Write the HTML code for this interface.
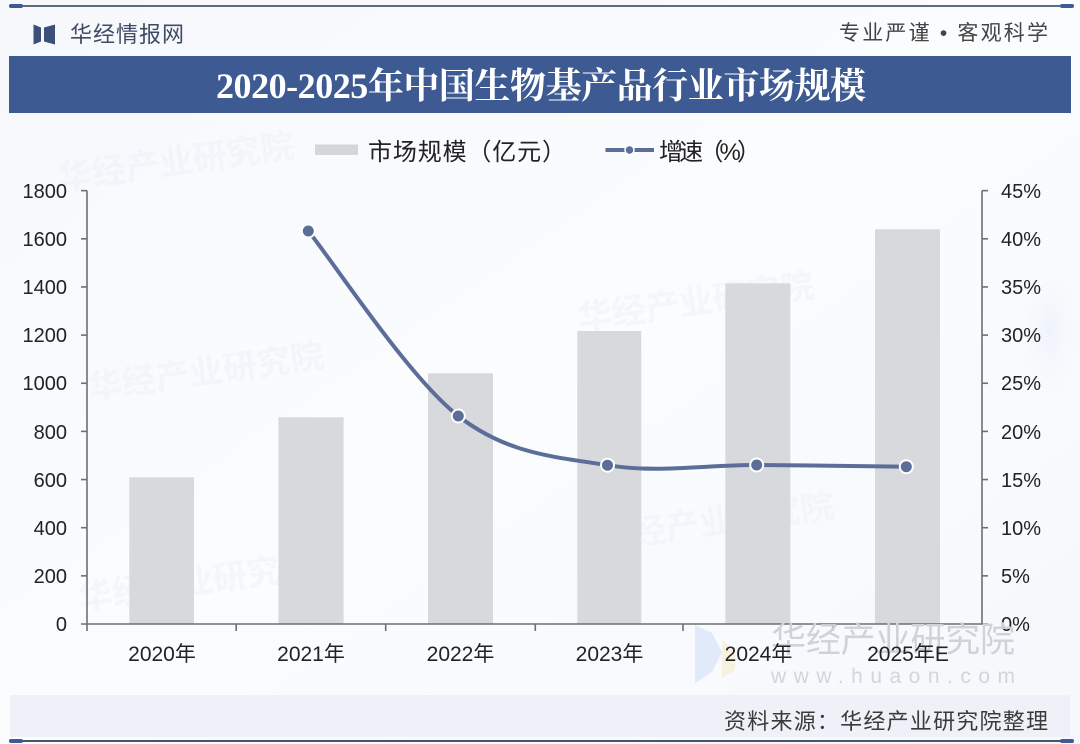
<!DOCTYPE html>
<html>
<head>
<meta charset="utf-8">
<style>
  html,body{margin:0;padding:0;background:#f8fafd;}
  svg{display:block;}
  .sans{font-family:"Liberation Sans","Noto Sans CJK SC",sans-serif;}
  .cjk{font-family:"Liberation Sans","Noto Sans CJK SC",sans-serif;}
  .serif{font-family:"Liberation Serif","Noto Serif CJK SC",serif;}
</style>
</head>
<body>
<svg width="1080" height="744" viewBox="0 0 1080 744" xmlns="http://www.w3.org/2000/svg">
  <defs>
    <linearGradient id="bg" x1="0" y1="0" x2="1" y2="1">
      <stop offset="0" stop-color="#f6f8fc"/>
      <stop offset="0.5" stop-color="#fbfcfe"/>
      <stop offset="1" stop-color="#f5f8fc"/>
    </linearGradient>
    <radialGradient id="blob" cx="0.5" cy="0.5" r="0.5">
      <stop offset="0" stop-color="#eaf0fa" stop-opacity="0.7"/>
      <stop offset="1" stop-color="#f8fafd" stop-opacity="0"/>
    </radialGradient>
  </defs>
  <rect x="0" y="0" width="1080" height="744" fill="url(#bg)"/>
  <ellipse cx="1050" cy="330" rx="35" ry="80" fill="url(#blob)"/>

  <!-- top rule -->
  <rect x="9" y="5" width="1062" height="2" fill="#5f6b7e"/>
  <rect x="9" y="4" width="14" height="4" rx="2" fill="#3d5b92"/>
  <rect x="1060" y="4" width="14" height="4" rx="2" fill="#3d5b92"/>

  <!-- logo -->
  <polygon points="33.5,24.5 41,27.5 41,41.5 33.5,44.5" fill="#3a4f7a"/>
  <polygon points="44,27.5 55,24.5 55,44.5 44,41.5" fill="#3a4f7a"/>
  <text x="70" y="42" class="cjk" font-size="22" fill="#3f4b63" textLength="114" lengthAdjust="spacing">华经情报网</text>

  <!-- tagline -->
  <text x="839" y="40" class="cjk" font-size="21" fill="#444" textLength="209" lengthAdjust="spacing">专业严谨 • 客观科学</text>

  <!-- title bar -->
  <rect x="9" y="56" width="1062" height="57" fill="#3d5b92"/>
  <text x="216" y="98" class="serif" font-size="36" font-weight="bold" fill="#ffffff" textLength="650" lengthAdjust="spacing">2020-2025年中国生物基产品行业市场规模</text>

  <!-- legend -->
  <rect x="315" y="144.5" width="43" height="10.5" fill="#d5d6d9"/>
  <text x="368" y="160" class="cjk" font-size="24" fill="#222" textLength="198" lengthAdjust="spacing">市场规模（亿元）</text>
  <line x1="605.5" y1="150" x2="654" y2="150" stroke="#5b6d98" stroke-width="4"/>
  <circle cx="629.5" cy="150" r="4.5" fill="#5b6d98" stroke="#ffffff" stroke-width="1.5"/>
  <text x="659" y="160" class="cjk" font-size="24" fill="#222" textLength="102" lengthAdjust="spacing">增速（%）</text>

  <!-- faint watermarks -->
  <g fill="#eef1f6" opacity="0.55" class="cjk" font-weight="bold">
    <text x="60" y="190" font-size="34" transform="rotate(-8 60 190)">华经产业研究院</text>
    <text x="90" y="400" font-size="34" transform="rotate(-8 90 400)">华经产业研究院</text>
    <text x="580" y="330" font-size="34" transform="rotate(-8 580 330)">华经产业研究院</text>
    <text x="600" y="550" font-size="34" transform="rotate(-8 600 550)">华经产业研究院</text>
    <text x="80" y="610" font-size="34" transform="rotate(-8 80 610)">华经产业研究院</text>
  </g>

  <!-- bars -->
  <g fill="#d8d9dc">
    <rect x="129.3" y="477.3" width="64.7" height="146.7"/>
    <rect x="278.4" y="417.3" width="65.2" height="206.7"/>
    <rect x="428" y="373.3" width="65" height="250.7"/>
    <rect x="577.3" y="331" width="64" height="293"/>
    <rect x="725.3" y="283.3" width="65" height="340.7"/>
    <rect x="875" y="229.3" width="65" height="394.7"/>
  </g>

  <!-- axes -->
  <g stroke="#6f6f6f" stroke-width="1.6" fill="none">
    <line x1="87" y1="190.6" x2="87" y2="624"/>
    <line x1="982" y1="190.6" x2="982" y2="624"/>
    <line x1="81" y1="624" x2="988" y2="624"/>
    <line x1="81" y1="190.65" x2="87" y2="190.65"/>
    <line x1="81" y1="238.8" x2="87" y2="238.8"/>
    <line x1="81" y1="286.95" x2="87" y2="286.95"/>
    <line x1="81" y1="335.1" x2="87" y2="335.1"/>
    <line x1="81" y1="383.25" x2="87" y2="383.25"/>
    <line x1="81" y1="431.4" x2="87" y2="431.4"/>
    <line x1="81" y1="479.55" x2="87" y2="479.55"/>
    <line x1="81" y1="527.7" x2="87" y2="527.7"/>
    <line x1="81" y1="575.85" x2="87" y2="575.85"/>
    <line x1="982" y1="190.65" x2="988" y2="190.65"/>
    <line x1="982" y1="238.8" x2="988" y2="238.8"/>
    <line x1="982" y1="286.95" x2="988" y2="286.95"/>
    <line x1="982" y1="335.1" x2="988" y2="335.1"/>
    <line x1="982" y1="383.25" x2="988" y2="383.25"/>
    <line x1="982" y1="431.4" x2="988" y2="431.4"/>
    <line x1="982" y1="479.55" x2="988" y2="479.55"/>
    <line x1="982" y1="527.7" x2="988" y2="527.7"/>
    <line x1="982" y1="575.85" x2="988" y2="575.85"/>
    <line x1="87" y1="624" x2="87" y2="631"/>
    <line x1="236.2" y1="624" x2="236.2" y2="631"/>
    <line x1="385.7" y1="624" x2="385.7" y2="631"/>
    <line x1="535.3" y1="624" x2="535.3" y2="631"/>
    <line x1="683" y1="624" x2="683" y2="631"/>
    <line x1="832.7" y1="624" x2="832.7" y2="631"/>
  </g>

  <!-- left tick labels -->
  <g class="sans" font-size="20" fill="#222" text-anchor="end">
    <text x="67" y="198">1800</text>
    <text x="67" y="246">1600</text>
    <text x="67" y="294">1400</text>
    <text x="67" y="342">1200</text>
    <text x="67" y="390">1000</text>
    <text x="67" y="439">800</text>
    <text x="67" y="487">600</text>
    <text x="67" y="535">400</text>
    <text x="67" y="583">200</text>
    <text x="67" y="631">0</text>
  </g>
  <!-- right tick labels -->
  <g class="sans" font-size="20" fill="#222">
    <text x="1001" y="198">45%</text>
    <text x="1001" y="246">40%</text>
    <text x="1001" y="294">35%</text>
    <text x="1001" y="342">30%</text>
    <text x="1001" y="390">25%</text>
    <text x="1001" y="439">20%</text>
    <text x="1001" y="487">15%</text>
    <text x="1001" y="535">10%</text>
    <text x="1001" y="583">5%</text>
    <text x="1001" y="631">0%</text>
  </g>

  <!-- bottom-right watermark -->
  <polygon points="695,625 712,633 722,652 712,672 695,683" fill="#dbe6f7" opacity="0.8"/>
  <polygon points="722,640 735,650 735,670 722,678" fill="#f7efd8" opacity="0.8"/>
  <text x="771" y="652" class="cjk" font-size="35" fill="#cfd2d8" textLength="244" lengthAdjust="spacing">华经产业研究院</text>
  <text x="771" y="683" class="sans" font-size="21" fill="#d2d5da" textLength="244" lengthAdjust="spacing">www.huaon.com</text>

  <!-- x labels -->
  <g class="cjk" font-size="21" fill="#222" text-anchor="middle">
    <text x="162" y="661">2020年</text>
    <text x="311" y="661">2021年</text>
    <text x="460.5" y="661">2022年</text>
    <text x="609.5" y="661">2023年</text>
    <text x="758.5" y="661">2024年</text>
    <text x="908" y="661">2025年E</text>
  </g>

  <!-- growth line -->
  <path d="M308.3,231 C333.3,261.8 408.4,377 458.3,416 C508.2,455 557.8,457 607.5,465.2 C657.2,473.4 707,464.75 756.7,465 C806.5,465.25 881.1,466.4 906,466.7"
        fill="none" stroke="#5b6d98" stroke-width="4" stroke-linecap="round"/>
  <g fill="#5b6d98" stroke="#ffffff" stroke-width="2">
    <circle cx="308.3" cy="231" r="6.5"/>
    <circle cx="458.3" cy="416" r="6.5"/>
    <circle cx="607.5" cy="465.2" r="6.5"/>
    <circle cx="756.7" cy="465" r="6.5"/>
    <circle cx="906.3" cy="466.7" r="6.5"/>
  </g>

  <!-- footer band -->
  <rect x="10" y="695" width="1060" height="42" fill="#eef2f8"/>
  <text x="724" y="729" class="cjk" font-size="22" fill="#3a3a3a" textLength="324" lengthAdjust="spacing">资料来源：华经产业研究院整理</text>

  <!-- bottom rule -->
  <rect x="9" y="740" width="1062" height="2" fill="#4a5568"/>
  <rect x="9" y="739" width="14" height="4" rx="2" fill="#3d5b92"/>
  <rect x="1060" y="739" width="14" height="4" rx="2" fill="#3d5b92"/>
</svg>
</body>
</html>
